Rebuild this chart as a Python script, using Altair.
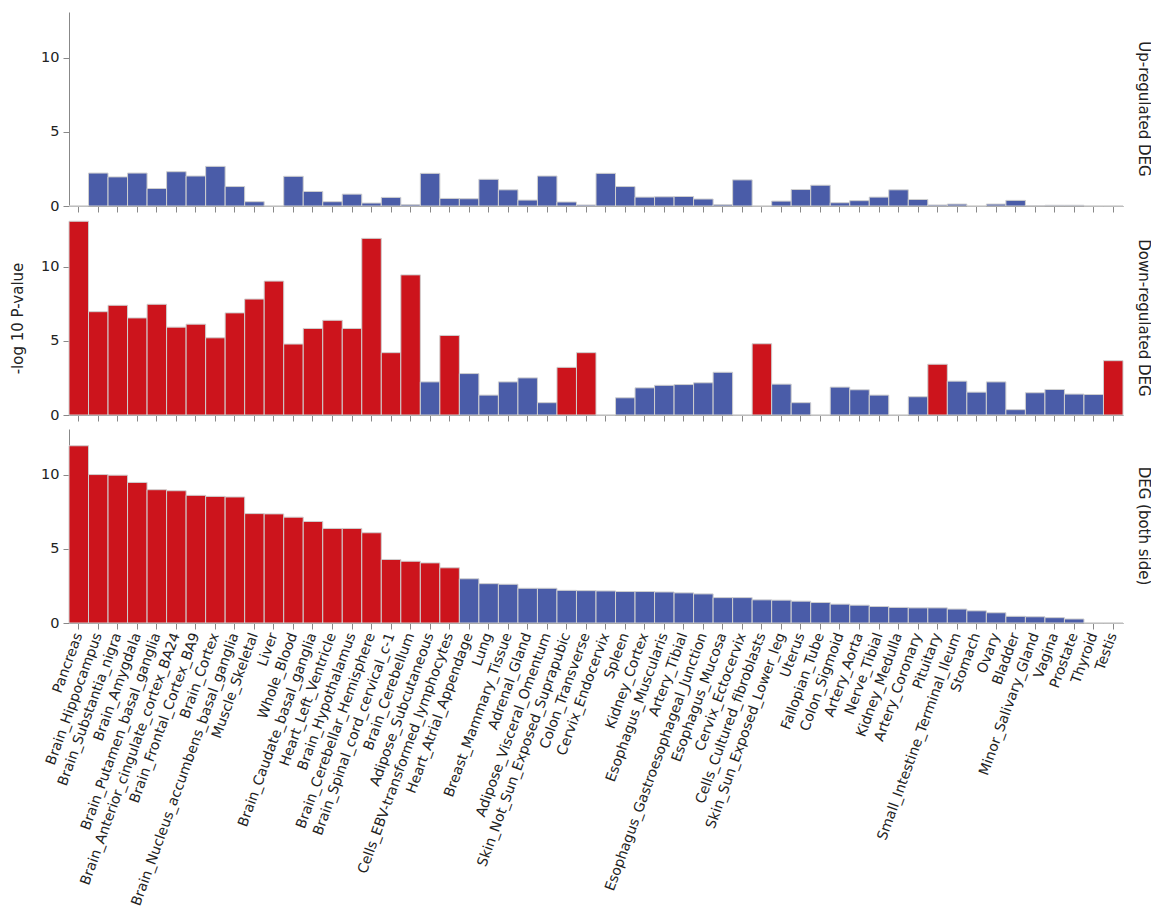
import altair as alt
import pandas as pd

tissues = [
    "Pancreas", "Brain_Hippocampus", "Brain_Substantia_nigra", "Brain_Amygdala",
    "Brain_Putamen_basal_ganglia", "Brain_Anterior_cingulate_cortex_BA24",
    "Brain_Frontal_Cortex_BA9", "Brain_Cortex", "Brain_Nucleus_accumbens_basal_ganglia",
    "Muscle_Skeletal", "Liver", "Whole_Blood", "Brain_Caudate_basal_ganglia",
    "Heart_Left_Ventricle", "Brain_Hypothalamus", "Brain_Cerebellar_Hemisphere",
    "Brain_Spinal_cord_cervical_c-1", "Brain_Cerebellum", "Adipose_Subcutaneous",
    "Cells_EBV-transformed_lymphocytes", "Heart_Atrial_Appendage", "Lung",
    "Breast_Mammary_Tissue", "Adrenal_Gland", "Adipose_Visceral_Omentum",
    "Skin_Not_Sun_Exposed_Suprapubic", "Colon_Transverse", "Cervix_Endocervix",
    "Spleen", "Kidney_Cortex", "Esophagus_Muscularis", "Artery_Tibial",
    "Esophagus_Gastroesophageal_Junction", "Esophagus_Mucosa", "Cervix_Ectocervix",
    "Cells_Cultured_fibroblasts", "Skin_Sun_Exposed_Lower_leg", "Uterus",
    "Fallopian_Tube", "Colon_Sigmoid", "Artery_Aorta", "Nerve_Tibial",
    "Kidney_Medulla", "Artery_Coronary", "Pituitary", "Small_Intestine_Terminal_Ileum",
    "Stomach", "Ovary", "Bladder", "Minor_Salivary_Gland", "Vagina", "Prostate",
    "Thyroid", "Testis",
]

up_values = [
    0, 2.22, 1.96, 2.22, 1.18, 2.31, 2.02, 2.67, 1.31, 0.29,
    0, 2.0, 0.98, 0.29, 0.8, 0.2, 0.58, 0.09, 2.2, 0.51,
    0.49, 1.8, 1.09, 0.4, 2.02, 0.27, 0.07, 2.2, 1.31, 0.6,
    0.62, 0.64, 0.47, 0.09, 1.76, 0, 0.33, 1.11, 1.4, 0.22,
    0.36, 0.6, 1.09, 0.44, 0.07, 0.13, 0, 0.13, 0.38, 0.02,
    0.05, 0.05, 0, 0,
]
up_sig = ["no"] * 54

down_values = [
    13.05, 6.96, 7.39, 6.54, 7.46, 5.92, 6.12, 5.2, 6.88, 7.81,
    9.02, 4.78, 5.83, 6.38, 5.83, 11.9, 4.2, 9.44, 2.23, 5.36,
    2.79, 1.34, 2.23, 2.5, 0.83, 3.21, 4.2, 0, 1.16, 1.83,
    2.0, 2.05, 2.17, 2.88, 0, 4.8, 2.08, 0.83, 0, 1.88,
    1.7, 1.34, 0, 1.23, 3.42, 2.28, 1.54, 2.23, 0.36, 1.5,
    1.72, 1.41, 1.38, 3.66,
]
down_red_idx = list(range(18)) + [19, 25, 26, 35, 44, 53]
down_sig = ["yes" if i in down_red_idx else "no" for i in range(54)]

both_values = [
    11.94, 10.0, 9.96, 9.47, 8.98, 8.91, 8.6, 8.53, 8.49, 7.37,
    7.35, 7.13, 6.84, 6.37, 6.37, 6.08, 4.28, 4.16, 4.05, 3.72,
    2.98, 2.65, 2.61, 2.34, 2.34, 2.2, 2.18, 2.16, 2.12, 2.12,
    2.09, 2.03, 1.96, 1.71, 1.71, 1.56, 1.54, 1.47, 1.38, 1.27,
    1.2, 1.11, 1.05, 1.02, 1.02, 0.94, 0.82, 0.69, 0.45, 0.42,
    0.36, 0.27, 0, 0,
]
both_sig = ["yes" if i < 20 else "no" for i in range(54)]

panel_titles = ["Up-regulated DEG", "Down-regulated DEG", "DEG (both side)"]
y_ticks = [0, 5, 10]
y_max = 13.07

RED = "#CC141C"
BLUE = "#4A5CA8"
FONT = "DejaVu Sans"
TEXT = "#222222"


def panel(values, sig, title, show_labels, show_ytitle):
    df = pd.DataFrame({"tissue": tissues, "value": values, "sig": sig})
    x_axis = alt.Axis(
        title=None,
        labels=show_labels,
        labelAngle=-70,
        labelAlign="right",
        labelBaseline="middle",
        labelLimit=500,
        labelOverlap=False,
        labelFontSize=14,
        labelPadding=4,
        tickSize=6,
    )
    y_axis = alt.Axis(
        values=y_ticks,
        title="-log 10 P-value",
        titleOpacity=1 if show_ytitle else 0,
        titleFontSize=15,
        titlePadding=15,
        labelFontSize=14.5,
        labelPadding=4,
        tickSize=6,
    )
    return (
        alt.Chart(df)
        .mark_bar(stroke="#cfcfcf", strokeWidth=1)
        .encode(
            x=alt.X("tissue:N", sort=tissues,
                    scale=alt.Scale(paddingInner=0, paddingOuter=0),
                    axis=x_axis),
            y=alt.Y("value:Q",
                    scale=alt.Scale(domain=[0, y_max], nice=False, zero=True),
                    axis=y_axis),
            color=alt.Color("sig:N",
                            scale=alt.Scale(domain=["yes", "no"], range=[RED, BLUE]),
                            legend=None),
        )
        .properties(
            width=1054,
            height=194,
            title=alt.TitleParams(
                text=title, orient="right", anchor="middle", offset=12,
                fontSize=15, fontWeight="normal", font=FONT, color=TEXT,
            ),
        )
    )


top = panel(up_values, up_sig, panel_titles[0], False, False)
mid = panel(down_values, down_sig, panel_titles[1], False, True)
bot = panel(both_values, both_sig, panel_titles[2], True, False)

chart = (
    alt.vconcat(top, mid, bot, spacing=7)
    .properties(padding={"left": 2, "top": 4, "right": 0, "bottom": 0})
    .configure_view(stroke=None)
    .configure_axis(
        grid=False,
        domainColor="#888",
        tickColor="#888",
        labelColor=TEXT,
        titleColor=TEXT,
        labelFont=FONT,
        titleFont=FONT,
        titleFontWeight="normal",
    )
)

chart.save("out.html", embed_options={"renderer": "svg", "actions": False})
